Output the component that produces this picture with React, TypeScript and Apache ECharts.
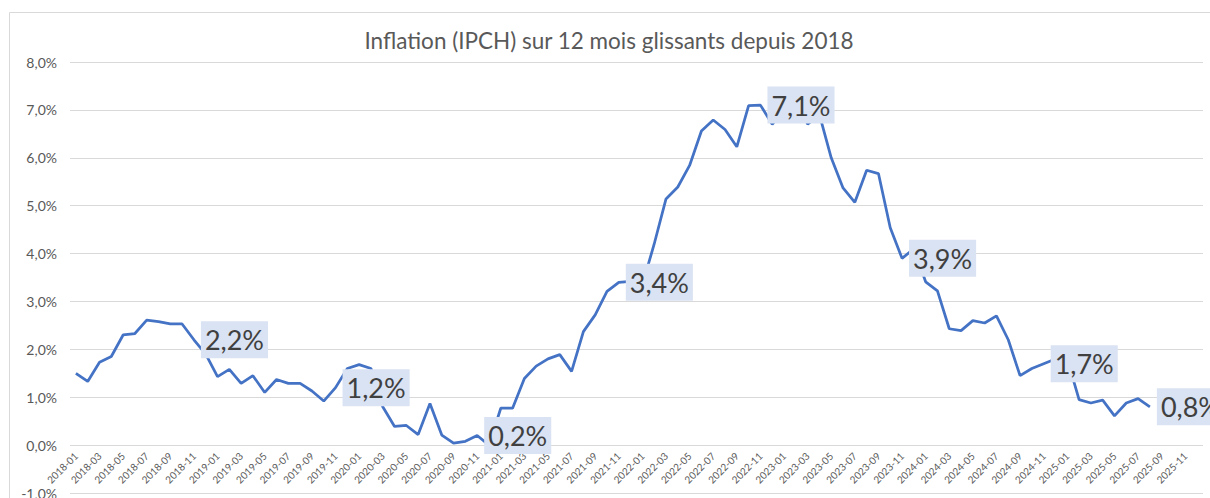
import React, { useEffect, useRef } from "react";
import * as echarts from "echarts";

const TITLE = "Inflation (IPCH) sur 12 mois glissants depuis 2018";

// Months from 2018-01 to 2025-12
const years = [2018, 2019, 2020, 2021, 2022, 2023, 2024, 2025];
const months = ["01", "02", "03", "04", "05", "06", "07", "08", "09", "10", "11", "12"];
const categories: string[] = [];
years.forEach((y) => months.forEach((m) => categories.push(`${y}-${m}`)));

// Annual HICP inflation (%), 2018-01 .. 2025-08
const values2018 = [1.5, 1.33, 1.73, 1.85, 2.3, 2.33, 2.61, 2.58, 2.53, 2.53, 2.2, 1.9];
const values2019 = [1.43, 1.58, 1.29, 1.45, 1.1, 1.37, 1.29, 1.29, 1.13, 0.92, 1.2, 1.6];
const values2020 = [1.68, 1.6, 0.8, 0.39, 0.41, 0.22, 0.87, 0.21, 0.04, 0.08, 0.2, 0.0];
const values2021 = [0.77, 0.77, 1.39, 1.65, 1.8, 1.89, 1.54, 2.37, 2.72, 3.21, 3.4, 3.42];
const values2022 = [3.35, 4.2, 5.14, 5.39, 5.84, 6.56, 6.79, 6.59, 6.23, 7.09, 7.1, 6.7];
const values2023 = [7.0, 7.3, 6.7, 6.9, 6.0, 5.37, 5.07, 5.74, 5.67, 4.54, 3.9, 4.1];
const values2024 = [3.41, 3.22, 2.43, 2.39, 2.6, 2.55, 2.7, 2.2, 1.45, 1.6, 1.7, 1.8];
const values2025 = [1.8, 0.95, 0.88, 0.94, 0.61, 0.88, 0.97, 0.8];

const values = [
  ...values2018, ...values2019, ...values2020, ...values2021,
  ...values2022, ...values2023, ...values2024, ...values2025,
];

// Points carrying a data label
const labelledMonths = ["2018-11", "2019-11", "2020-11", "2021-11", "2022-11", "2023-11", "2024-11", "2025-08"];

const Y_MIN = -1;
const Y_MAX = 8;

const FONT = "Lato, 'Open Sans', sans-serif";

export default function App() {
  const ref = useRef<HTMLDivElement>(null);

  useEffect(() => {
    document.body.style.margin = "0";
    if (!ref.current) return;
    const chart = echarts.init(ref.current, undefined, { renderer: "svg" });

    const fmt = (v: number) => v.toFixed(1).replace(".", ",") + "%";

    const data = values.map((v, i) => {
      const show = labelledMonths.includes(categories[i]);
      return show ? { value: v, label: { show: true } } : { value: v };
    });

    const gridTop = 62;
    const gridBottom = 5;
    const plotH = 498 - gridTop - gridBottom;
    const unitPx = plotH / (Y_MAX - Y_MIN);
    const zeroOffset = -(0 - Y_MIN) * unitPx;

    chart.setOption({
      animation: false,
      backgroundColor: "#ffffff",
      textStyle: { fontFamily: FONT },
      title: {
        text: TITLE,
        left: 604,
        top: 24,
        textAlign: "center",
        textStyle: { fontFamily: FONT, fontSize: 22.5, fontWeight: "normal", color: "#595959" },
      },
      graphic: [
        {
          type: "rect",
          shape: { x: 9.5, y: 12.5, width: 1300, height: 600 },
          style: { fill: "none", stroke: "#d9d9d9", lineWidth: 1 },
          silent: true,
          z: -1,
        },
      ],
      grid: { left: 70, right: 7, top: gridTop, bottom: gridBottom, containLabel: false, outerBoundsMode: "none" },
      xAxis: {
        type: "category",
        data: categories,
        boundaryGap: true,
        position: "bottom",
        offset: zeroOffset,
        z: 0,
        axisLine: { show: false },
        axisTick: { show: false },
        axisLabel: {
          interval: 1,
          rotate: 45,
          fontSize: 10,
          color: "#595959",
          fontFamily: FONT,
          margin: 9,
        },
        splitLine: { show: false },
      },
      yAxis: {
        type: "value",
        min: Y_MIN,
        max: Y_MAX,
        interval: 1,
        z: 0,
        axisLine: { show: false },
        axisTick: { show: false },
        axisLabel: {
          formatter: (v: number) => fmt(v),
          fontSize: 14,
          color: "#595959",
          fontFamily: FONT,
          margin: 13,
        },
        splitLine: { lineStyle: { color: "#d9d9d9", width: 1 } },
      },
      series: [
        {
          type: "line",
          z: 10,
          data,
          showSymbol: true,
          symbol: "circle",
          symbolSize: 0,
          lineStyle: { color: "#4472c4", width: 2.75 },
          itemStyle: { color: "#4472c4" },
          label: {
            show: false,
            position: "right",
            distance: 7,
            formatter: (p: any) => fmt(p.value),
            fontSize: 27,
            fontFamily: FONT,
            color: "#404040",
            backgroundColor: "#dae3f3",
            padding: [5, 4, 5, 4],
          },
          emphasis: { disabled: true },
        },
      ],
    });

    return () => chart.dispose();
  }, []);

  return <div ref={ref} style={{ width: 1210, height: 498 }} />;
}
